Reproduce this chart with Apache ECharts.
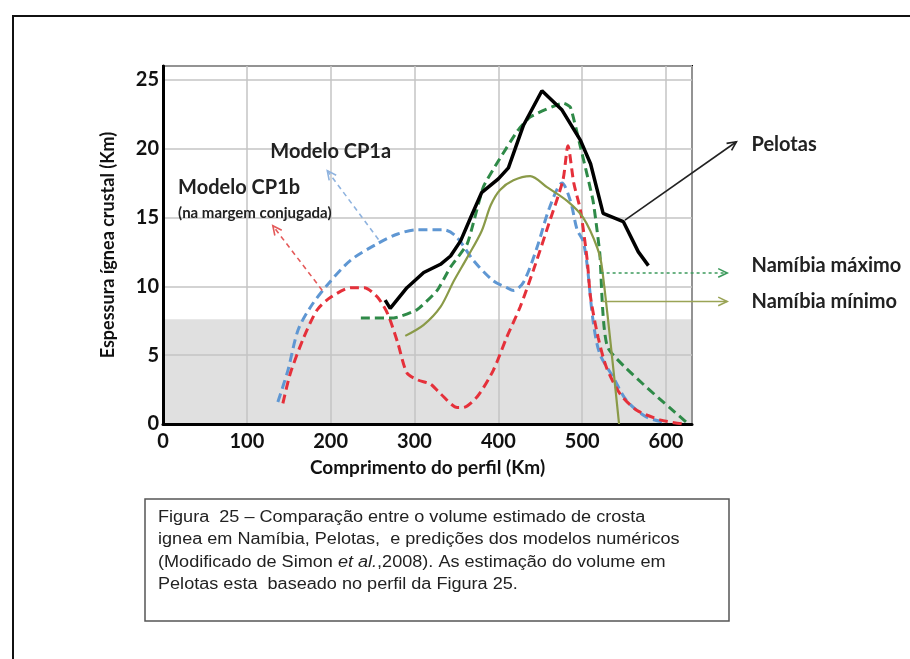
<!DOCTYPE html>
<html>
<head>
<meta charset="utf-8">
<script src="https://cdn.jsdelivr.net/npm/echarts@6/dist/echarts.min.js"></script>
<style>
  html, body { margin: 0; padding: 0; background: #fff; }
  #chart { width: 910px; height: 659px; }
</style>
</head>
<body>
<div id="chart"></div>
<script>
// valores (x em km, y em km)
const pelotas = [[265,9.0],[271,8.4],[291,9.9],[311,11.0],[331,11.6],[343,12.2],[355,13.3],[367,15.0],[380,16.8],[400,17.8],[412,18.6],[430,21.7],[452,24.2],[476,22.8],[498,20.6],[510,18.9],[525,15.3],[549,14.7],[567,12.5],[579,11.5]];
const namibiaMax = [[236,7.7],[275,7.7],[303,8.3],[327,9.7],[343,11.4],[363,13.1],[382,17.2],[400,19.1],[423,21.3],[438,22.3],[478,23.3],[486,23.0],[498,20.1],[513,16.2],[521,12.4],[531,5.5],[625,0.1]];
const namibiaMin = [[289,6.4],[311,7.2],[331,8.5],[347,10.4],[363,12.1],[380,14.0],[391,15.9],[402,17.0],[418,17.7],[438,18.0],[458,17.2],[482,16.2],[501,15.0],[518,12.8],[524,11.2],[544,0]];
const cp1a = [[137,1.6],[149,3.9],[161,6.8],[176,8.5],[196,10.1],[224,11.9],[256,13.1],[280,13.8],[303,14.1],[335,14.1],[350,13.6],[370,11.9],[394,10.4],[410,9.9],[418,9.7],[430,10.3],[446,12.8],[461,15.7],[476,17.5],[486,16.2],[494,14.1],[501,13.3],[506,11.5],[513,7.5],[521,5.1],[537,3.4],[553,1.7],[577,0.5],[601,0.1]];
const cp1b = [[143,1.5],[152,3.7],[168,6.3],[184,8.3],[200,9.2],[224,9.9],[240,9.9],[256,9.2],[268,8.0],[280,5.9],[291,3.7],[304,3.2],[319,2.9],[331,2.2],[351,1.2],[358,1.2],[375,2.0],[394,3.9],[410,6.3],[426,8.5],[442,11.2],[460,14.5],[477,17.7],[483,20.2],[490,17.5],[498,15.5],[506,11.9],[510,9.2],[519,6.3],[529,4.1],[545,2.2],[565,1.0],[593,0.3],[620,0]];
const grayBandTop = 7.6;
const xRange = [0, 631];
const yRange = [0, 26];
const xStep = 100;
const yStep = 5;

// anotações: ponto de partida na curva e ponta da seta (coordenadas de dados)
const arrows = [
  { from: [257, 13.4], to: [196, 18.4], color: '#8fb3df', dash: [5, 4] },
  { from: [190, 9.7], to: [131, 14.4], color: '#e45a5a', dash: [5, 4] },
  { from: [551, 14.8], to: [684, 20.5], color: '#222', dash: null },
  { from: [522, 10.97], to: [673, 10.97], color: '#3c9a5c', dash: [3, 3] },
  { from: [524, 8.9], to: [673, 8.9], color: '#9aa456', dash: null }
];
const labels = [
  { text: 'Modelo CP1a', at: [128, 19.8], size: 20 },
  { text: 'Modelo CP1b', at: [18, 17.15], size: 20 },
  { text: '(na margem conjugada)', at: [18, 15.33], size: 15 },
  { text: 'Pelotas', at: [702, 20.3], size: 20 },
  { text: 'Namíbia máximo', at: [702, 11.5], size: 20 },
  { text: 'Namíbia mínimo', at: [702, 8.87], size: 20 }
];

const caption = 'Figura  25 – Comparação entre o volume estimado de crosta\n' +
  'ignea em Namíbia, Pelotas,  e predições dos modelos numéricos\n' +
  '(Modificado de Simon {i|et al.},2008). As estimação do volume em\n' +
  'Pelotas esta  baseado no perfil da Figura 25.';

const font = 'Lato';
const chart = echarts.init(document.getElementById('chart'));

function dashed(name, data, color, smooth) {
  return {
    name, type: 'line', data, smooth, symbol: 'none', z: 3,
    lineStyle: { color, width: 3, type: [9, 5] }
  };
}

const tickLabel = { fontFamily: font, fontWeight: 'bold', fontSize: 20, color: '#111', showMaxLabel: false };

chart.setOption({
  animation: false,
  grid: { left: 163, right: 218, top: 66, bottom: 235, show: true, borderColor: '#000', borderWidth: 2 },
  xAxis: {
    type: 'value', min: xRange[0], max: xRange[1], interval: xStep,
    name: 'Comprimento do perfil (Km)', nameLocation: 'middle', nameGap: 34,
    nameTextStyle: { fontFamily: font, fontWeight: 'bold', fontSize: 19, color: '#111' },
    axisLine: { lineStyle: { color: '#000', width: 3 } },
    axisTick: { show: false },
    axisLabel: Object.assign({ margin: 8 }, tickLabel),
    splitLine: { lineStyle: { color: '#c4c4c4', width: 1.5 } }
  },
  yAxis: {
    type: 'value', min: yRange[0], max: yRange[1], interval: yStep,
    name: 'Espessura ígnea crustal (Km)', nameLocation: 'middle', nameGap: 46,
    nameTextStyle: { fontFamily: font, fontWeight: 'bold', fontSize: 18, color: '#111' },
    axisLine: { lineStyle: { color: '#000', width: 3 } },
    axisTick: { show: false },
    axisLabel: Object.assign({ margin: 4 }, tickLabel),
    splitLine: { lineStyle: { color: '#c4c4c4', width: 1.5 } }
  },
  series: [
    {
      type: 'line', z: -1, silent: true, symbol: 'none',
      data: [[xRange[0], grayBandTop], [xRange[1], grayBandTop]],
      lineStyle: { width: 0 }, areaStyle: { color: '#e0e0e0', opacity: 1 }
    },
    dashed('Modelo CP1a', cp1a, '#5f97d3', 0.3),
    dashed('Modelo CP1b', cp1b, '#e5303a', 0.25),
    dashed('Namíbia máximo', namibiaMax, '#2f8a48', 0.15),
    {
      name: 'Namíbia mínimo', type: 'line', data: namibiaMin, smooth: 0.3, symbol: 'none', z: 3,
      lineStyle: { color: '#8a9a48', width: 2.2 }
    },
    {
      name: 'Pelotas', type: 'line', data: pelotas, symbol: 'none', z: 4,
      lineStyle: { color: '#000', width: 3.5 }
    }
  ]
});

// setas e textos das anotações, posicionados pela escala dos eixos
const px = p => chart.convertToPixel({ gridIndex: 0 }, p);
const graphics = [];
arrows.forEach(a => {
  const p0 = px(a.from), p1 = px(a.to);
  const ang = Math.atan2(p1[1] - p0[1], p1[0] - p0[0]);
  const len = 10, spread = 0.45;
  const w1 = [p1[0] - len * Math.cos(ang - spread), p1[1] - len * Math.sin(ang - spread)];
  const w2 = [p1[0] - len * Math.cos(ang + spread), p1[1] - len * Math.sin(ang + spread)];
  graphics.push({
    type: 'line', z: 10, silent: true,
    shape: { x1: p0[0], y1: p0[1], x2: p1[0], y2: p1[1] },
    style: { stroke: a.color, lineWidth: 1.6, lineDash: a.dash }
  });
  graphics.push({
    type: 'polyline', z: 10, silent: true,
    shape: { points: [w1, p1, w2] },
    style: { stroke: a.color, lineWidth: 1.6, fill: null }
  });
});
labels.forEach(l => {
  const p = px(l.at);
  graphics.push({
    type: 'text', z: 10, silent: true, x: p[0], y: p[1],
    style: { text: l.text, fontFamily: font, fontWeight: 'bold', fontSize: l.size, fill: '#222', verticalAlign: 'middle' }
  });
});
// moldura externa e caixa da legenda da figura
graphics.push({
  type: 'rect', z: 10, silent: true,
  shape: { x: 13, y: 16, width: 1000, height: 1000 },
  style: { stroke: '#111', lineWidth: 2, fill: null }
});
graphics.push({
  type: 'rect', z: 10, silent: true,
  shape: { x: 145, y: 499, width: 584, height: 122 },
  style: { stroke: '#555', lineWidth: 1.5, fill: '#fff' }
});
graphics.push({
  type: 'text', z: 11, silent: true, x: 158, y: 506, scaleX: 1.13,
  style: {
    text: caption, fontFamily: 'Liberation Sans', fontSize: 16, lineHeight: 22.5, fill: '#222',
    rich: { i: { fontStyle: 'italic', fontFamily: 'Liberation Sans', fontSize: 16, lineHeight: 22.5, fill: '#222' } }
  }
});
chart.setOption({ graphic: graphics });
window.addEventListener('resize', () => chart.resize());
</script>
</body>
</html>
